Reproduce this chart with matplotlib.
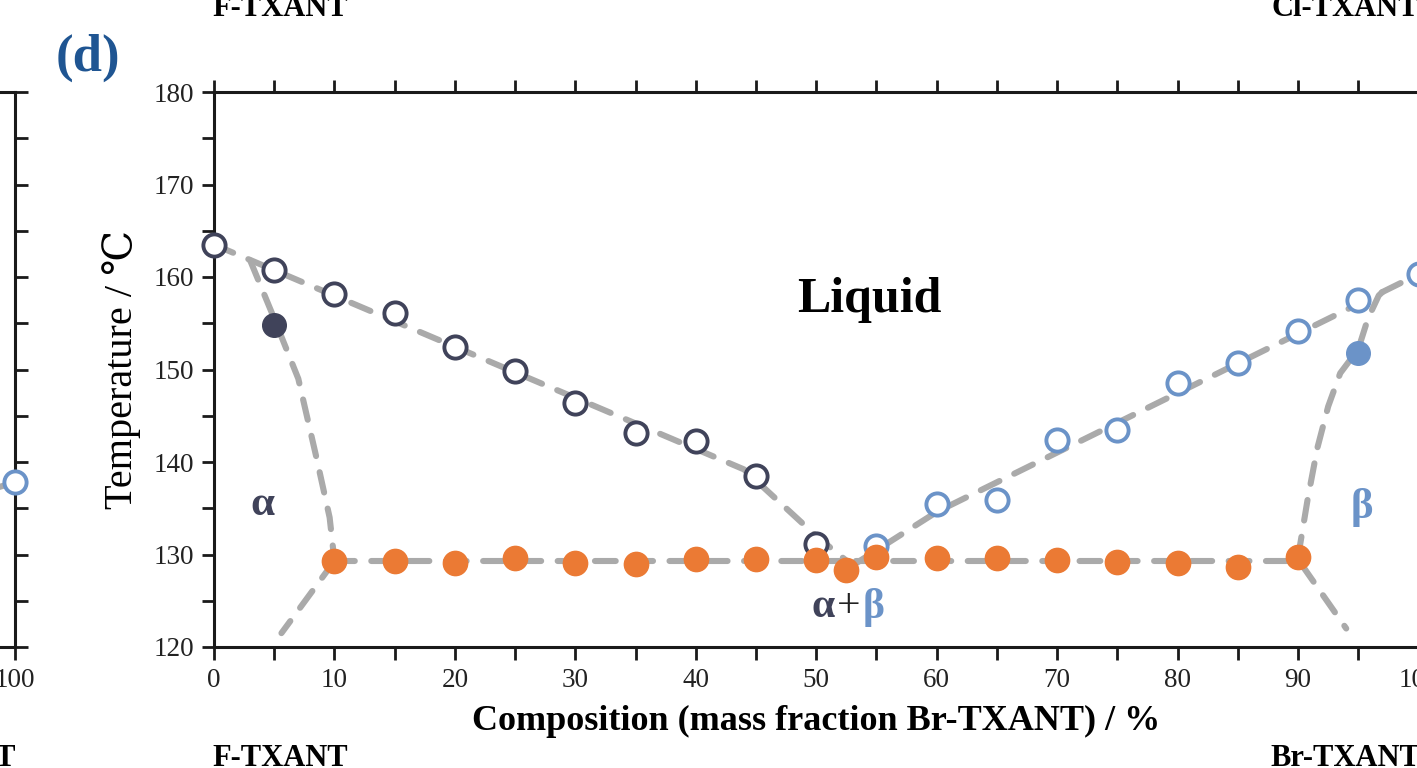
import matplotlib.pyplot as plt
import numpy as np

# --- data ---
liq_a_x = [0, 5, 10, 15, 20, 25, 30, 35, 40, 45, 50]
liq_a_T = [163.5, 160.8, 158.2, 156.1, 152.4, 149.8, 146.4, 143.1, 142.3, 138.5, 131.1]
liq_b_x = [55, 60, 65, 70, 75, 80, 85, 90, 95, 100]
liq_b_T = [130.9, 135.5, 135.9, 142.4, 143.5, 148.5, 150.7, 154.2, 157.5, 160.3]
sol_a_x = [5]
sol_a_T = [154.8]
sol_b_x = [95]
sol_b_T = [151.8]
eut_x = [10, 15, 20, 25, 30, 35, 40, 45, 50, 52.5, 55, 60, 65, 70, 75, 80, 85, 90]
eut_T = [129.3, 129.3, 129.1, 129.6, 129.1, 129.0, 129.5, 129.5, 129.4, 128.3,
         129.7, 129.6, 129.6, 129.4, 129.2, 129.1, 128.7, 129.7]

# guide lines (hand drawn in the original)
liqline_a_x = [0, 44, 50, 53]
liqline_a_T = [163.5, 139.2, 132.0, 128.8]
liqline_b_x = [53, 60, 100]
liqline_b_T = [128.8, 134.6, 160.3]
solline_a_x = [3, 5, 7, 8.5, 9.6, 10]
solline_a_T = [161.8, 155.5, 149.0, 140.5, 134.0, 129.3]
solline_b_x = [90, 90.8, 91.6, 92.5, 93.5, 95, 95.8, 96.7, 97.5]
solline_b_T = [129.7, 136.0, 141.5, 146.0, 149.6, 152.2, 155.5, 158.0, 159.0]
eutline_x = [10, 90]
eutline_T = [129.3, 129.3]
below_a_x = [10, 5.6]
below_a_T = [129.3, 121.5]
below_b_x = [90.3, 94.0]
below_b_T = [128.9, 122.0]

# panel (c) remnant at the left edge
c_x = [100]
c_T = [137.8]

NAVY = '#40435a'
BLUE = '#6b93c8'
ORANGE = '#eb7a34'
GREY = '#aaaaaa'
FONT = ['Liberation Serif', 'DejaVu Serif']

plt.rcParams['font.family'] = FONT

fig = plt.figure(figsize=(14.17, 7.68), dpi=100)
W, H = 1417, 768
ax_w = 1204.5 / W
ax_h = 555 / H
ax_b = 121 / H


def style_axis(a):
    for s in a.spines.values():
        s.set_linewidth(2.2)
        s.set_color('#1a1a1a')
    a.tick_params(which='both', direction='out', length=9, width=2, color='#1a1a1a',
                  labelsize=19.5, labelcolor='#222222', pad=6)


def guide(a, xs, ys):
    a.plot(xs, ys, color=GREY, lw=4.4, dashes=(3.4, 2.7), dash_capstyle='round',
           solid_capstyle='round', zorder=2, clip_on=False)


# panel (d)
ax = fig.add_axes([214 / W, ax_b, ax_w, ax_h])
style_axis(ax)
ax.set_xlim(0, 100)
ax.set_ylim(120, 180)
ax.set_xticks(np.arange(0, 101, 10))
ax.set_xticks(np.arange(0, 101, 5), minor=True)
ax.set_yticks(np.arange(120, 181, 10))
ax.set_yticks(np.arange(120, 181, 5), minor=True)
ax.tick_params(which='both', top=True)
ax.tick_params(axis='y', pad=5)
ax.set_xlabel('Composition (mass fraction Br-TXANT) / %', fontsize=26,
              fontweight='bold', labelpad=9)
ax.set_ylabel('Temperature / ℃', fontsize=29, labelpad=9)

guide(ax, liqline_a_x, liqline_a_T)
guide(ax, liqline_b_x, liqline_b_T)
guide(ax, solline_a_x, solline_a_T)
guide(ax, solline_b_x, solline_b_T)
guide(ax, eutline_x, eutline_T)
guide(ax, below_a_x, below_a_T)
guide(ax, below_b_x, below_b_T)

ax.plot(liq_a_x, liq_a_T, 'o', ms=16, mfc='white', mec=NAVY, mew=2.8, zorder=3, clip_on=False)
ax.plot(liq_b_x, liq_b_T, 'o', ms=16, mfc='white', mec=BLUE, mew=2.8, zorder=3, clip_on=False)
ax.plot(sol_a_x, sol_a_T, 'o', ms=17, color=NAVY, zorder=3)
ax.plot(sol_b_x, sol_b_T, 'o', ms=17, color=BLUE, zorder=3)
ax.plot(eut_x, eut_T, 'o', ms=17.5, color=ORANGE, zorder=4)

ax.text(54.4, 157.5, 'Liquid', fontsize=36, fontweight='bold', ha='center', va='center')
ax.text(4.0, 135.3, 'α', fontsize=31, fontweight='bold', color=NAVY, ha='center', va='center')
ax.text(95.3, 135.1, 'β', fontsize=31, fontweight='bold', color=BLUE, ha='center', va='center')
ax.text(50.6, 124.3, 'α', fontsize=30, fontweight='bold', color=NAVY, ha='center', va='center')
ax.text(52.7, 124.3, '+', fontsize=30, color='#222222', ha='center', va='center')
ax.text(54.8, 124.3, 'β', fontsize=30, fontweight='bold', color=BLUE, ha='center', va='center')

# panel (c) remnant
axc = fig.add_axes([(15 - 1204.5) / W, ax_b, ax_w, ax_h])
style_axis(axc)
axc.set_xlim(0, 100)
axc.set_ylim(120, 180)
axc.set_xticks(np.arange(0, 101, 10))
axc.set_yticks(np.arange(120, 181, 5))
axc.yaxis.tick_right()
axc.tick_params(axis='y', labelright=False)
guide(axc, [90, 100], [134.0, 137.8])
axc.plot(c_x, c_T, 'o', ms=16, mfc='white', mec=BLUE, mew=2.8, zorder=3, clip_on=False)

# component labels and panel tag
lab = dict(fontsize=22, fontweight='bold', ha='center', va='baseline')
fig.text(280 / W, 1 - 16 / H, 'F-TXANT', **lab)
fig.text(1345 / W, 1 - 16 / H, 'Cl-TXANT', **lab)
fig.text(280 / W, 1 - 766 / H, 'F-TXANT', **lab)
fig.text(1345 / W, 1 - 766 / H, 'Br-TXANT', **lab)
fig.text(-58 / W, 1 - 766 / H, 'Cl-TXANT', **lab)
fig.text(88 / W, 1 - 58 / H, '(d)', fontsize=38, fontweight='bold', color='#1f5592',
         ha='center', va='center')

fig.savefig('out.png', dpi=100)
